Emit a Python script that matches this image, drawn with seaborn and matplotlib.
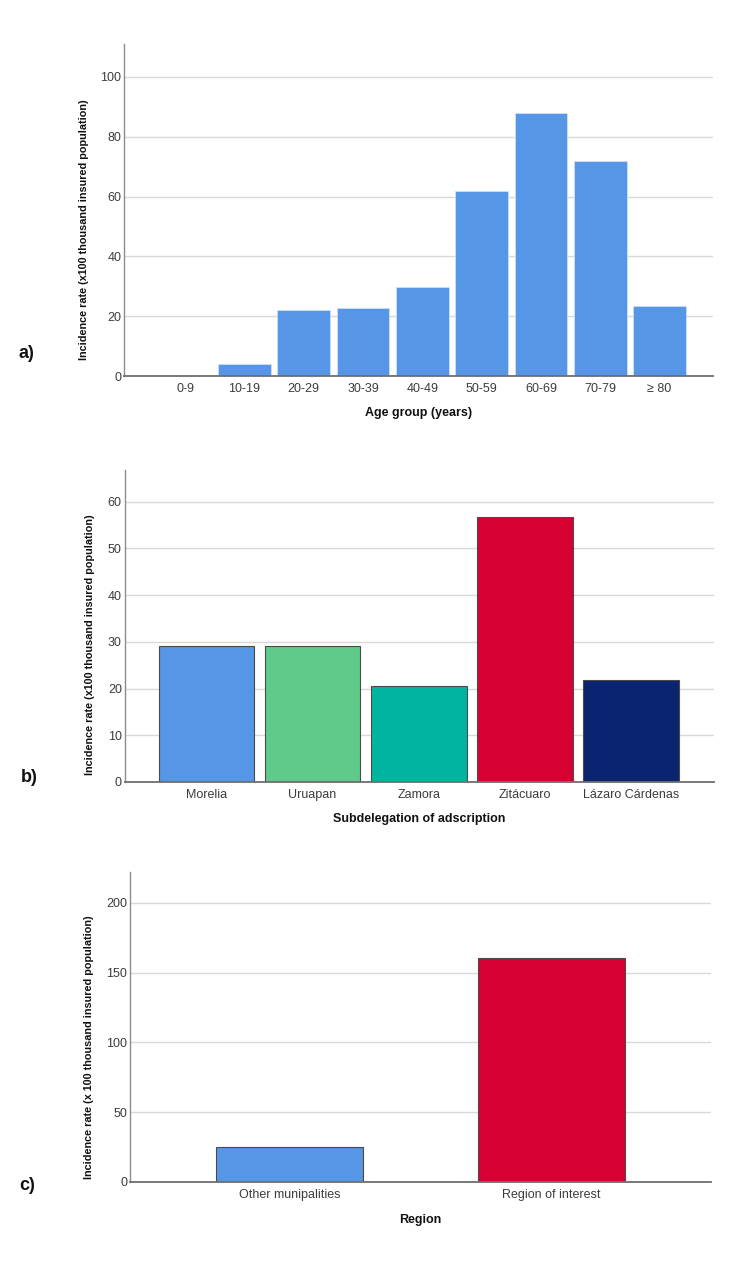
import matplotlib
matplotlib.use("Agg")
import matplotlib.pyplot as plt
import seaborn as sns
import pandas as pd

# data
age_groups = ["0-9", "10-19", "20-29", "30-39", "40-49", "50-59", "60-69", "70-79", "≥ 80"]
age_rates = [0.0, 4.0, 22.0, 22.8, 29.6, 62.0, 88.0, 72.0, 23.5]

subdelegations = ["Morelia", "Uruapan", "Zamora", "Zitácuaro", "Lázaro Cárdenas"]
subdeleg_rates = [29.1, 29.2, 20.5, 56.8, 21.9]

regions = ["Other munipalities", "Region of interest"]
region_rates = [25.0, 160.6]

blue = "#5596E6"
subdeleg_colors = ["#5596E6", "#5FCA8A", "#00B4A0", "#D60032", "#0A2470"]
region_colors = ["#5596E6", "#D60032"]

sns.set_theme(style="white")
plt.rcParams["font.family"] = ["Liberation Sans", "DejaVu Sans"]

W, H = 750, 1261
fig = plt.figure(figsize=(W / 100, H / 100), dpi=100)


def make_axes(left, right, top, bottom):
    return fig.add_axes([left / W, 1 - bottom / H, (right - left) / W, (bottom - top) / H])


def style_axes(ax, ymax, yticks, xlim, xlabel, ylab_x, xlab_y):
    ax.set_ylim(0, ymax)
    ax.set_xlim(*xlim)
    ax.set_yticks(yticks)
    ax.yaxis.grid(True, color="#d9d9d9", linewidth=1.0)
    ax.xaxis.grid(False)
    ax.set_axisbelow(True)
    for s in ["top", "right"]:
        ax.spines[s].set_visible(False)
    ax.spines["left"].set_color("#8c8c8c")
    ax.spines["left"].set_linewidth(1.0)
    ax.spines["bottom"].set_color("#6e6e6e")
    ax.spines["bottom"].set_linewidth(1.3)
    ax.tick_params(axis="both", length=0, labelsize=9, labelcolor="#3c3c3c")
    ax.tick_params(axis="y", pad=2)
    ax.tick_params(axis="x", pad=5)
    ax.set_xlabel(xlabel, fontsize=9, fontweight="bold", color="#111111")
    ax.set_ylabel("Incidence rate (x100 thousand insured population)",
                  fontsize=7.8, fontweight="bold", color="#111111")
    ax.yaxis.set_label_coords(ylab_x, 0.44)
    ax.xaxis.set_label_coords(0.5, xlab_y)


# a) age group
ax1 = make_axes(124, 713, 44, 376)
df_age = pd.DataFrame({"group": age_groups, "rate": age_rates})
sns.barplot(data=df_age, x="group", y="rate", color=blue, saturation=1, width=0.89,
            edgecolor="#cfe0f7", linewidth=0.6, ax=ax1)
style_axes(ax1, 111, [0, 20, 40, 60, 80, 100], (-1.03, 8.9),
           "Age group (years)", -0.059, -0.093)

# b) subdelegation
ax2 = make_axes(124.6, 714, 470, 782)
df_sub = pd.DataFrame({"sub": subdelegations, "rate": subdeleg_rates})
sns.barplot(data=df_sub, x="sub", y="rate", hue="sub", palette=subdeleg_colors,
            saturation=1, legend=False, width=0.9, edgecolor="#4a4a4a",
            linewidth=0.8, ax=ax2)
style_axes(ax2, 66.8, [0, 10, 20, 30, 40, 50, 60], (-0.77, 4.78),
           "Subdelegation of adscription", -0.050, -0.099)

# c) region
ax3 = make_axes(130, 711, 872, 1182)
df_reg = pd.DataFrame({"region": regions, "rate": region_rates})
sns.barplot(data=df_reg, x="region", y="rate", hue="region", palette=region_colors,
            saturation=1, legend=False, width=0.56, edgecolor="#4a4a4a",
            linewidth=0.8, ax=ax3)
style_axes(ax3, 222, [0, 50, 100, 150, 200], (-0.61, 1.61),
           "Region", -0.062, -0.103)
ax3.set_ylabel("Incidence rate (x 100 thousand insured population)",
               fontsize=7.8, fontweight="bold", color="#111111")
ax3.yaxis.set_label_coords(-0.062, 0.435)

# panel letters
for lab, (px, py) in zip(["a)", "b)", "c)"], [(26.5, 353), (29, 778), (27, 1185)]):
    fig.text(px / W, 1 - py / H, lab, fontsize=13, fontweight="bold",
             ha="center", va="center", color="#111111")

fig.savefig("out.png", dpi=100, facecolor="white")
